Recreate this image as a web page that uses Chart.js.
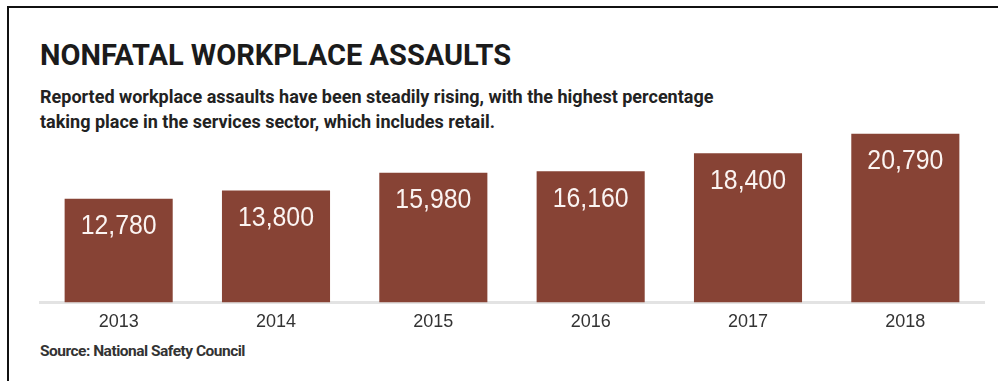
<!DOCTYPE html>
<html lang="en">
<head>
  <meta charset="UTF-8" />
  <title>Nonfatal workplace assaults</title>
  <style>
    body {
      margin: 0;
      padding: 0;
      background: #fff;
      width: 998px;
      height: 381px;
      overflow: hidden;
      position: relative;
      font-family: "Liberation Sans", Arial, sans-serif;
    }
    .frame {
      position: absolute;
      left: 7px;
      top: 6px;
      width: 991px;
      height: 375px;
      border-top: 2px solid #111;
      border-left: 2px solid #111;
    }
    h1 {
      position: absolute;
      left: 40px;
      top: 38px;
      margin: 0;
      font-family: Roboto, sans-serif;
      font-weight: 700;
      font-size: 29px;
      line-height: 34px;
      color: #1b1b1b;
      white-space: nowrap;
    }
    .sub {
      position: absolute;
      left: 40px;
      top: 84px;
      margin: 0;
      font-family: Roboto, sans-serif;
      font-weight: 700;
      font-size: 18px;
      line-height: 25px;
      color: #222;
      white-space: nowrap;
    }
    .source {
      position: absolute;
      left: 40px;
      top: 342px;
      margin: 0;
      font-family: Roboto, sans-serif;
      font-weight: 700;
      font-size: 15.5px;
      letter-spacing: -0.5px;
      color: #333;
      white-space: nowrap;
    }
    #wrap {
      position: absolute;
      left: 0;
      top: 0;
      width: 998px;
      height: 381px;
    }
  </style>
</head>
<body>
  <div class="frame"></div>
  <h1>NONFATAL WORKPLACE ASSAULTS</h1>
  <p class="sub">Reported workplace assaults have been steadily rising, with the highest percentage<br>taking place in the services sector, which includes retail.</p>
  <p class="source">Source: National Safety Council</p>
  <div id="wrap"><canvas id="chart"></canvas></div>

  <script src="https://cdn.jsdelivr.net/npm/chart.js"></script>
  <script>
    const years = ['2013', '2014', '2015', '2016', '2017', '2018'];
    const assaults = [12780, 13800, 15980, 16160, 18400, 20790];
    const yMax = 22000;

    // white value label near the top of each bar
    const valueLabels = {
      id: 'valueLabels',
      afterDatasetsDraw(chart) {
        const ctx = chart.ctx;
        const bars = chart.getDatasetMeta(0).data;
        ctx.save();
        ctx.fillStyle = '#fbf4f2';
        ctx.font = '27px "Liberation Sans", Arial, sans-serif';
        ctx.textAlign = 'center';
        ctx.textBaseline = 'middle';
        bars.forEach((bar, i) => {
          ctx.save();
          ctx.translate(bar.x, bar.y + 28);
          ctx.scale(0.92, 1);
          ctx.fillText(assaults[i].toLocaleString('en-US'), 0, 0);
          ctx.restore();
        });
        ctx.restore();
      }
    };

    new Chart(document.getElementById('chart'), {
      type: 'bar',
      data: {
        labels: years,
        datasets: [{
          data: assaults,
          backgroundColor: '#874335',
          borderWidth: 0,
          categoryPercentage: 1,
          barPercentage: 0.687
        }]
      },
      options: {
        responsive: true,
        maintainAspectRatio: false,
        animation: false,
        layout: { padding: { left: 40, right: 14, top: 124, bottom: 39 } },
        plugins: {
          legend: { display: false },
          tooltip: { enabled: false }
        },
        scales: {
          x: {
            grid: { display: false, drawTicks: false },
            border: { display: true, color: '#e3e3e3', width: 3 },
            ticks: {
              color: '#333',
              padding: 9,
              font: { family: '"Liberation Sans", Arial, sans-serif', size: 18 }
            }
          },
          y: {
            display: false,
            min: 0,
            max: yMax
          }
        }
      },
      plugins: [valueLabels]
    });
  </script>
</body>
</html>
